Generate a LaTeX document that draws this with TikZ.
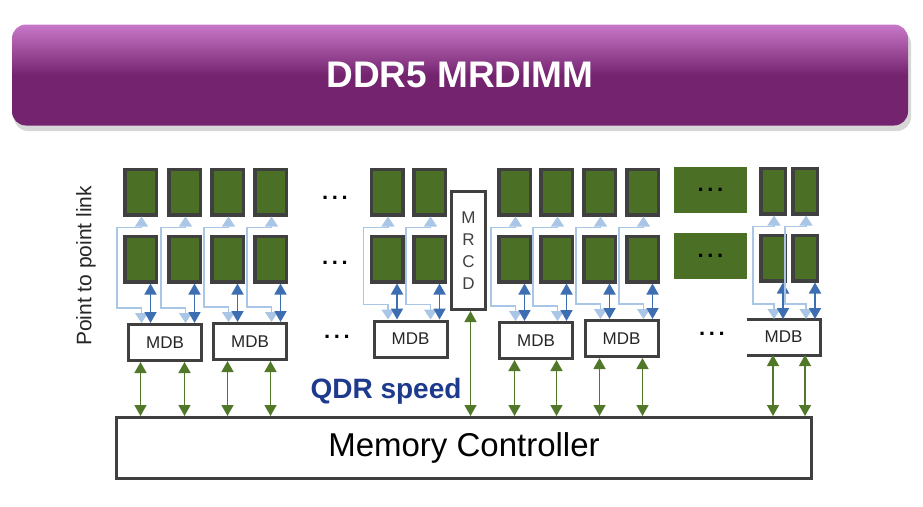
\documentclass[tikz,border=0pt]{standalone}
\usepackage{fontspec}
\setmainfont{Liberation Sans}
\usepackage{xcolor}
\definecolor{mrGreen}  {RGB}{ 75, 111,  36}
\definecolor{mrEdge}   {RGB}{ 64,  64,  64}
\definecolor{mrPurple} {RGB}{116,  36, 111}
\definecolor{mrPink}   {RGB}{200, 120, 200}
\definecolor{mrBlue}   {RGB}{ 62, 110, 178}
\definecolor{mrLite}   {RGB}{170, 198, 230}
\definecolor{mrBus}    {RGB}{ 80, 120,  40}
\definecolor{mrQdr}    {RGB}{ 30,  58, 140}
\usetikzlibrary{arrows.meta,positioning,calc}

\begin{document}
\begin{tikzpicture}[
  x=1pt, y=-1pt,
  chip/.style={draw=mrEdge, fill=mrGreen, line width=3.5pt, minimum width=31.5pt, minimum height=45.5pt, inner sep=0pt},
  wide/.style={fill=mrGreen, minimum width=73pt, minimum height=46pt, inner sep=0pt, font=\fontsize{22}{24}\selectfont\bfseries},
  mdb/.style={draw=mrEdge, line width=3pt, minimum width=73pt, minimum height=36pt, inner sep=0pt, text=black!85, font=\fontsize{17}{20}\selectfont},
  dots/.style={font=\fontsize{22}{24}\selectfont\bfseries},
  lite/.style={draw=mrLite, line width=1.1pt, {Triangle[width=13pt,length=10pt]}-{Triangle[width=13pt,length=10pt]}},
  dark/.style={draw=mrBlue, line width=1.8pt, {Triangle[width=12pt,length=11pt]}-{Triangle[width=12pt,length=11pt]}},
  bus/.style={draw=mrBus, line width=1.4pt, {Triangle[width=12pt,length=11pt]}-{Triangle[width=12pt,length=11pt]}},
]
  \useasboundingbox (0,0) rectangle (923,506);

  % Title bar
  \fill[black!35, opacity=.45, rounded corners=14pt] (14,30) rectangle (911,131);
  \node[rounded corners=14pt, top color=mrPink, bottom color=mrPurple, middle color=mrPurple,
        minimum width=896pt, minimum height=101pt, text=white,
        font=\fontsize{37}{40}\selectfont\bfseries] (title) at (460,75) {DDR5 MRDIMM};

  % DRAM chips, upper and lower row
  \foreach \ch/\x in {a1/140.5,a2/184.5,a3/227.5,a4/270.5,b1/387,b2/429.5,c1/514.5,c2/556.5,c3/599.5,c4/642.5}{
    \node[chip] (u\ch) at (\x,192) {};
    \node[chip] (l\ch) at (\x,259) {};
  }
  \foreach \ch/\x in {d1/773,d2/805}{
    \node[chip, minimum width=24.5pt] (u\ch) at (\x,191) {};
    \node[chip, minimum width=24.5pt] (l\ch) at (\x,258) {};
  }
  \node[wide] (w1) at (710.5,190) {.\,.\,.};
  \node[wide] (w2) at (710.5,255.5) {.\,.\,.};

  % Data buffers, clock driver, controller
  \node[mdb] (mdb1) at (165,342.5) {MDB};
  \node[mdb] (mdb2) at (250,341.5) {MDB};
  \node[mdb] (mdb3) at (410.5,339) {MDB};
  \node[mdb] (mdb4) at (536,340.5) {MDB};
  \node[mdb] (mdb5) at (621.5,338.5) {MDB};
  \node[mdb, draw=none, outer sep=0pt] (mdb6) at (783.5,337) {MDB};
  \draw[draw=mrEdge, line width=3pt] (mdb6.north west) -- (mdb6.north east) -- (mdb6.south east) -- (mdb6.south west);
  \node[draw=mrEdge, line width=3pt, minimum width=34pt, minimum height=118pt, inner sep=0pt,
        align=center, text=mrEdge, font=\fontsize{17}{22}\selectfont] (mrcd) at (468.5,250.5) {M\\R\\C\\D};
  \node[draw=mrEdge, line width=3pt, minimum width=695pt, minimum height=61pt,
        font=\fontsize{33}{36}\selectfont] (mc) at (464,448) {Memory Controller};

  % Labels
  \node[dots] (dots1) at (335,198) {.\,.\,.};
  \node[dots] (dots2) at (335,263) {.\,.\,.};
  \node[dots] (dots3) at (337,337) {.\,.\,.};
  \node[dots] (dots4) at (712,334) {.\,.\,.};
  \node[rotate=90, text=black!85, font=\fontsize{21}{23}\selectfont] (ptp) at (86,266) {Point to point link};
  \node[text=mrQdr, font=\fontsize{28}{30}\selectfont\bfseries] (qdr) at (386,391) {QDR speed};

  % Point to point links chip <-> MDB
  \foreach \ch/\mb in {a1/mdb1,a2/mdb1,a3/mdb2,a4/mdb2,b1/mdb3,b2/mdb3,c1/mdb4,c2/mdb4,c3/mdb5,c4/mdb5,d1/mdb6,d2/mdb6}{
    \draw[lite] ($(u\ch.south)+(1,0)$) -- ++(0,11) -| ($(l\ch.west |- \mb.north)+(-6,-15)$) -| ($(u\ch.south |- \mb.north)+(1,0)$);
    \draw[dark] ($(l\ch.south)+(10,0)$) -- ($(l\ch.south |- \mb.north)+(10,0)$);
  }

  % MDB <-> controller
  \foreach \ch/\mb in {a1/mdb1,a2/mdb1,a3/mdb2,a4/mdb2,c1/mdb4,c2/mdb4,c3/mdb5,c4/mdb5,d1/mdb6,d2/mdb6}
    \draw[bus] (\mb.south -| l\ch) -- (mc.north -| l\ch);
  \draw[bus] ($(mrcd.south)+(2,0)$) -- ($(mrcd.south |- mc.north)+(2,0)$);
\end{tikzpicture}
\end{document}
